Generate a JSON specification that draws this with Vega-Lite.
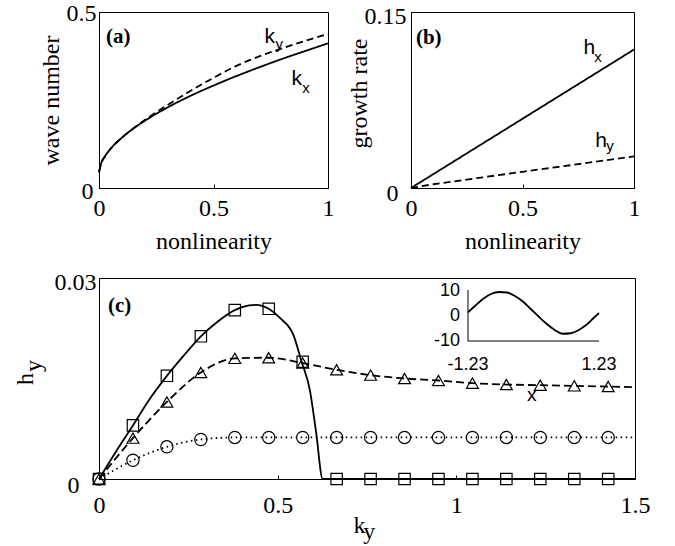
{
  "$schema": "https://vega.github.io/schema/vega-lite/v6.json",
  "background": "white",
  "padding": {"left": 12, "top": 0, "right": 5, "bottom": 0},
  "config": {
    "view": {"stroke": "black", "strokeWidth": 1},
    "axis": {
      "domainColor": "black", "tickColor": "black", "labelColor": "black", "titleColor": "black",
      "labelFont": "Liberation Serif", "titleFont": "Liberation Serif",
      "labelFontSize": 24, "titleFontSize": 24, "titleFontWeight": "normal",
      "grid": false, "tickSize": -4, "labelFlush": false, "labelOverlap": false
    },
    "axisY": {"labelOffset": 4}
  },
  "datasets": {
    "a_line": [
      {"s": "kx", "x": 0, "y": 0.044}, {"s": "kx", "x": 0.01, "y": 0.071}, {"s": "kx", "x": 0.025, "y": 0.089},
      {"s": "kx", "x": 0.05, "y": 0.111}, {"s": "kx", "x": 0.1, "y": 0.143}, {"s": "kx", "x": 0.15, "y": 0.169},
      {"s": "kx", "x": 0.2, "y": 0.191}, {"s": "kx", "x": 0.3, "y": 0.229}, {"s": "kx", "x": 0.4, "y": 0.262},
      {"s": "kx", "x": 0.5, "y": 0.291}, {"s": "kx", "x": 0.6, "y": 0.318}, {"s": "kx", "x": 0.7, "y": 0.343},
      {"s": "kx", "x": 0.8, "y": 0.367}, {"s": "kx", "x": 0.9, "y": 0.389}, {"s": "kx", "x": 1.0, "y": 0.411},
      {"s": "ky", "x": 0, "y": 0.044}, {"s": "ky", "x": 0.01, "y": 0.071}, {"s": "ky", "x": 0.025, "y": 0.089},
      {"s": "ky", "x": 0.05, "y": 0.111}, {"s": "ky", "x": 0.1, "y": 0.143}, {"s": "ky", "x": 0.15, "y": 0.169},
      {"s": "ky", "x": 0.2, "y": 0.193}, {"s": "ky", "x": 0.3, "y": 0.236}, {"s": "ky", "x": 0.4, "y": 0.276},
      {"s": "ky", "x": 0.5, "y": 0.313}, {"s": "ky", "x": 0.6, "y": 0.347}, {"s": "ky", "x": 0.7, "y": 0.374},
      {"s": "ky", "x": 0.8, "y": 0.397}, {"s": "ky", "x": 0.9, "y": 0.418}, {"s": "ky", "x": 1.0, "y": 0.438}
    ],
    "a_text": [
      {"k": "panel", "x": 0.031, "y": 0.412, "t": "(a)"},
      {"k": "main", "x": 0.746, "y": 0.412, "t": "k"},
      {"k": "sub", "x": 0.787, "y": 0.395, "t": "y"},
      {"k": "main", "x": 0.864, "y": 0.294, "t": "k"},
      {"k": "sub", "x": 0.904, "y": 0.271, "t": "x"}
    ],
    "b_line": [
      {"s": "hx", "x": 0, "y": 0}, {"s": "hx", "x": 0.25, "y": 0.0295}, {"s": "hx", "x": 0.5, "y": 0.059},
      {"s": "hx", "x": 0.75, "y": 0.0885}, {"s": "hx", "x": 1.0, "y": 0.118},
      {"s": "hy", "x": 0, "y": 0}, {"s": "hy", "x": 0.1, "y": 0.0032}, {"s": "hy", "x": 0.25, "y": 0.0072},
      {"s": "hy", "x": 0.5, "y": 0.0138}, {"s": "hy", "x": 0.75, "y": 0.0203}, {"s": "hy", "x": 1.0, "y": 0.027}
    ],
    "b_text": [
      {"k": "panel", "x": 0.022, "y": 0.1226, "t": "(b)"},
      {"k": "main", "x": 0.80, "y": 0.114, "t": "h"},
      {"k": "sub", "x": 0.839, "y": 0.107, "t": "x"},
      {"k": "main", "x": 0.852, "y": 0.0351, "t": "h"},
      {"k": "sub", "x": 0.892, "y": 0.0317, "t": "y"}
    ],
    "c_line": [
      {"s": "sq", "x": 0, "y": 0}, {"s": "sq", "x": 0.05, "y": 0.0043}, {"s": "sq", "x": 0.095, "y": 0.0080},
      {"s": "sq", "x": 0.14, "y": 0.0118}, {"s": "sq", "x": 0.19, "y": 0.0154}, {"s": "sq", "x": 0.24, "y": 0.0186},
      {"s": "sq", "x": 0.285, "y": 0.0213}, {"s": "sq", "x": 0.33, "y": 0.0234}, {"s": "sq", "x": 0.38, "y": 0.0252},
      {"s": "sq", "x": 0.42, "y": 0.0259}, {"s": "sq", "x": 0.44, "y": 0.0260}, {"s": "sq", "x": 0.475, "y": 0.0254},
      {"s": "sq", "x": 0.507, "y": 0.0240}, {"s": "sq", "x": 0.544, "y": 0.0215}, {"s": "sq", "x": 0.567, "y": 0.0175},
      {"s": "sq", "x": 0.59, "y": 0.0133}, {"s": "sq", "x": 0.608, "y": 0.0068}, {"s": "sq", "x": 0.626, "y": 0},
      {"s": "sq", "x": 1.5, "y": 0},
      {"s": "tri", "x": 0, "y": 0}, {"s": "tri", "x": 0.095, "y": 0.0061}, {"s": "tri", "x": 0.19, "y": 0.0115},
      {"s": "tri", "x": 0.285, "y": 0.0159}, {"s": "tri", "x": 0.38, "y": 0.0180}, {"s": "tri", "x": 0.475, "y": 0.0181},
      {"s": "tri", "x": 0.57, "y": 0.0173}, {"s": "tri", "x": 0.665, "y": 0.0163}, {"s": "tri", "x": 0.76, "y": 0.0155},
      {"s": "tri", "x": 0.855, "y": 0.0150}, {"s": "tri", "x": 0.95, "y": 0.0147}, {"s": "tri", "x": 1.045, "y": 0.0143},
      {"s": "tri", "x": 1.14, "y": 0.0141}, {"s": "tri", "x": 1.235, "y": 0.0140}, {"s": "tri", "x": 1.33, "y": 0.0139},
      {"s": "tri", "x": 1.425, "y": 0.0138}, {"s": "tri", "x": 1.5, "y": 0.0137},
      {"s": "circ", "x": 0, "y": 0}, {"s": "circ", "x": 0.095, "y": 0.0028}, {"s": "circ", "x": 0.19, "y": 0.0048},
      {"s": "circ", "x": 0.285, "y": 0.0059}, {"s": "circ", "x": 0.38, "y": 0.0062}, {"s": "circ", "x": 0.475, "y": 0.0062},
      {"s": "circ", "x": 0.57, "y": 0.0062}, {"s": "circ", "x": 0.665, "y": 0.0062}, {"s": "circ", "x": 0.76, "y": 0.0062},
      {"s": "circ", "x": 0.855, "y": 0.0062}, {"s": "circ", "x": 0.95, "y": 0.0062}, {"s": "circ", "x": 1.045, "y": 0.0062},
      {"s": "circ", "x": 1.14, "y": 0.0062}, {"s": "circ", "x": 1.235, "y": 0.0062}, {"s": "circ", "x": 1.33, "y": 0.0062},
      {"s": "circ", "x": 1.425, "y": 0.0062}, {"s": "circ", "x": 1.5, "y": 0.0062}
    ],
    "c_pts": [
      {"s": "sq", "x": 0, "y": 0}, {"s": "sq", "x": 0.095, "y": 0.0080}, {"s": "sq", "x": 0.19, "y": 0.0154},
      {"s": "sq", "x": 0.285, "y": 0.0213}, {"s": "sq", "x": 0.38, "y": 0.0252}, {"s": "sq", "x": 0.475, "y": 0.0254},
      {"s": "sq", "x": 0.57, "y": 0.0175}, {"s": "sq", "x": 0.665, "y": 0}, {"s": "sq", "x": 0.76, "y": 0},
      {"s": "sq", "x": 0.855, "y": 0}, {"s": "sq", "x": 0.95, "y": 0}, {"s": "sq", "x": 1.045, "y": 0},
      {"s": "sq", "x": 1.14, "y": 0}, {"s": "sq", "x": 1.235, "y": 0}, {"s": "sq", "x": 1.33, "y": 0},
      {"s": "sq", "x": 1.425, "y": 0},
      {"s": "tri", "x": 0, "y": 0}, {"s": "tri", "x": 0.095, "y": 0.0061}, {"s": "tri", "x": 0.19, "y": 0.0115},
      {"s": "tri", "x": 0.285, "y": 0.0159}, {"s": "tri", "x": 0.38, "y": 0.0180}, {"s": "tri", "x": 0.475, "y": 0.0181},
      {"s": "tri", "x": 0.57, "y": 0.0173}, {"s": "tri", "x": 0.665, "y": 0.0163}, {"s": "tri", "x": 0.76, "y": 0.0155},
      {"s": "tri", "x": 0.855, "y": 0.0150}, {"s": "tri", "x": 0.95, "y": 0.0147}, {"s": "tri", "x": 1.045, "y": 0.0143},
      {"s": "tri", "x": 1.14, "y": 0.0141}, {"s": "tri", "x": 1.235, "y": 0.0140}, {"s": "tri", "x": 1.33, "y": 0.0139},
      {"s": "tri", "x": 1.425, "y": 0.0138},
      {"s": "circ", "x": 0, "y": 0}, {"s": "circ", "x": 0.095, "y": 0.0028}, {"s": "circ", "x": 0.19, "y": 0.0048},
      {"s": "circ", "x": 0.285, "y": 0.0059}, {"s": "circ", "x": 0.38, "y": 0.0062}, {"s": "circ", "x": 0.475, "y": 0.0062},
      {"s": "circ", "x": 0.57, "y": 0.0062}, {"s": "circ", "x": 0.665, "y": 0.0062}, {"s": "circ", "x": 0.76, "y": 0.0062},
      {"s": "circ", "x": 0.855, "y": 0.0062}, {"s": "circ", "x": 0.95, "y": 0.0062}, {"s": "circ", "x": 1.045, "y": 0.0062},
      {"s": "circ", "x": 1.14, "y": 0.0062}, {"s": "circ", "x": 1.235, "y": 0.0062}, {"s": "circ", "x": 1.33, "y": 0.0062},
      {"s": "circ", "x": 1.425, "y": 0.0062}
    ],
    "c_text": [
      {"k": "panel", "x": 0.025, "y": 0.0249, "t": "(c)"},
      {"k": "mark", "x": 1.211, "y": 0.0125, "t": "x"},
      {"k": "xsub", "x": 0.756, "y": -0.0090, "t": "y"},
      {"k": "ysub", "x": -0.1623, "y": 0.01687, "t": "y"}
    ],
    "inset_line": [
      {"x": -1.23, "y": 1.5}, {"x": -1.1, "y": 4.0}, {"x": -0.95, "y": 6.8}, {"x": -0.8, "y": 8.8},
      {"x": -0.65, "y": 9.6}, {"x": -0.5, "y": 9.4}, {"x": -0.35, "y": 8.0}, {"x": -0.2, "y": 5.8},
      {"x": -0.05, "y": 2.8}, {"x": 0.1, "y": -0.3}, {"x": 0.25, "y": -3.2}, {"x": 0.4, "y": -5.6},
      {"x": 0.55, "y": -7.1}, {"x": 0.7, "y": -6.9}, {"x": 0.85, "y": -5.6}, {"x": 1.0, "y": -3.4},
      {"x": 1.12, "y": -1.0}, {"x": 1.23, "y": 1.2}
    ],
    "inset_axes": [
      {"x": -1.23, "y": -10, "x2": 1.23, "y2": -10},
      {"x": -1.23, "y": -10, "x2": -1.23, "y2": 10.4}
    ],
    "inset_labels": [
      {"k": "y", "x": -1.23, "y": 10, "t": "10"},
      {"k": "y", "x": -1.23, "y": 0, "t": "0"},
      {"k": "y", "x": -1.23, "y": -10, "t": "-10"},
      {"k": "x", "x": -1.23, "y": -10, "t": "-1.23"},
      {"k": "x", "x": 1.23, "y": -10, "t": "1.23"}
    ]
  },
  "spacing": 15,
  "vconcat": [
    {
      "spacing": 83,
      "bounds": "flush",
      "hconcat": [
        {
          "width": 229, "height": 176,
          "layer": [
            {
              "data": {"name": "a_line"},
              "mark": {"type": "line", "color": "black", "strokeWidth": 1.8, "interpolate": "monotone"},
              "encoding": {
                "x": {"field": "x", "type": "quantitative", "scale": {"domain": [0, 1], "nice": false},
                      "axis": {"values": [0, 0.5, 1], "format": "~g", "title": "nonlinearity", "labelPadding": 12, "titlePadding": 9}},
                "y": {"field": "y", "type": "quantitative", "scale": {"domain": [0, 0.5], "nice": false},
                      "axis": {"values": [0, 0.5], "format": "~g", "title": "wave number", "titlePadding": 3,
                               "labelOffset": {"condition": {"test": "datum.value == 0", "value": 3}, "value": 1},
                               "labelPadding": {"condition": {"test": "datum.value == 0", "value": 10}, "value": 7}}},
                "strokeDash": {"field": "s", "type": "nominal", "scale": {"domain": ["kx", "ky"], "range": [[1, 0], [7, 4]]}, "legend": null}
              }
            },
            {
              "data": {"name": "a_text"},
              "transform": [{"filter": "datum.k == 'panel'"}],
              "mark": {"type": "text", "font": "Liberation Serif", "fontWeight": "bold", "fontSize": 21, "align": "left", "baseline": "alphabetic", "color": "black"},
              "encoding": {"x": {"field": "x", "type": "quantitative"}, "y": {"field": "y", "type": "quantitative"}, "text": {"field": "t"}}
            },
            {
              "data": {"name": "a_text"},
              "transform": [{"filter": "datum.k == 'main'"}],
              "mark": {"type": "text", "font": "Liberation Sans", "fontSize": 21, "align": "center", "baseline": "alphabetic", "color": "black"},
              "encoding": {"x": {"field": "x", "type": "quantitative"}, "y": {"field": "y", "type": "quantitative"}, "text": {"field": "t"}}
            },
            {
              "data": {"name": "a_text"},
              "transform": [{"filter": "datum.k == 'sub'"}],
              "mark": {"type": "text", "font": "Liberation Sans", "fontSize": 15, "align": "center", "baseline": "alphabetic", "color": "black"},
              "encoding": {"x": {"field": "x", "type": "quantitative"}, "y": {"field": "y", "type": "quantitative"}, "text": {"field": "t"}}
            }
          ]
        },
        {
          "width": 223, "height": 176,
          "layer": [
            {
              "data": {"name": "b_line"},
              "mark": {"type": "line", "color": "black", "strokeWidth": 1.8},
              "encoding": {
                "x": {"field": "x", "type": "quantitative", "scale": {"domain": [0, 1], "nice": false},
                      "axis": {"values": [0, 0.5, 1], "format": "~g", "title": "nonlinearity", "labelPadding": 12, "titlePadding": 9}},
                "y": {"field": "y", "type": "quantitative", "scale": {"domain": [0, 0.15], "nice": false},
                      "axis": {"values": [0, 0.15], "format": "~g", "title": "growth rate", "titlePadding": -7, "titleY": 81,
                               "labelOffset": {"condition": {"test": "datum.value == 0", "value": 5}, "value": 4},
                               "labelPadding": {"condition": {"test": "datum.value == 0", "value": 17}, "value": 9}}},
                "strokeDash": {"field": "s", "type": "nominal", "scale": {"domain": ["hx", "hy"], "range": [[1, 0], [7, 4]]}, "legend": null}
              }
            },
            {
              "data": {"name": "b_text"},
              "transform": [{"filter": "datum.k == 'panel'"}],
              "mark": {"type": "text", "font": "Liberation Serif", "fontWeight": "bold", "fontSize": 21, "align": "left", "baseline": "alphabetic", "color": "black"},
              "encoding": {"x": {"field": "x", "type": "quantitative"}, "y": {"field": "y", "type": "quantitative"}, "text": {"field": "t"}}
            },
            {
              "data": {"name": "b_text"},
              "transform": [{"filter": "datum.k == 'main'"}],
              "mark": {"type": "text", "font": "Liberation Sans", "fontSize": 21, "align": "center", "baseline": "alphabetic", "color": "black"},
              "encoding": {"x": {"field": "x", "type": "quantitative"}, "y": {"field": "y", "type": "quantitative"}, "text": {"field": "t"}}
            },
            {
              "data": {"name": "b_text"},
              "transform": [{"filter": "datum.k == 'sub'"}],
              "mark": {"type": "text", "font": "Liberation Sans", "fontSize": 15, "align": "center", "baseline": "alphabetic", "color": "black"},
              "encoding": {"x": {"field": "x", "type": "quantitative"}, "y": {"field": "y", "type": "quantitative"}, "text": {"field": "t"}}
            }
          ]
        }
      ]
    },
    {
      "width": 536, "height": 201,
      "resolve": {"scale": {"x": "independent", "y": "independent"}},
      "layer": [
        {
          "layer": [
            {
              "data": {"name": "c_line"},
              "transform": [{"filter": "datum.s == 'sq'"}],
              "mark": {"type": "line", "color": "black", "strokeWidth": 1.8, "interpolate": "monotone"},
              "encoding": {
                "x": {"field": "x", "type": "quantitative", "scale": {"domain": [0, 1.5], "nice": false},
                      "axis": {"values": [0, 0.5, 1, 1.5], "format": "~g", "title": "k", "titleX": 260, "labelPadding": 18, "titlePadding": -4}},
                "y": {"field": "y", "type": "quantitative", "scale": {"domain": [0, 0.03], "nice": false},
                      "axis": {"values": [0, 0.03], "format": "~g", "title": "h", "titlePadding": 17,
                               "labelOffset": {"condition": {"test": "datum.value == 0", "value": 6}, "value": 4},
                               "labelPadding": {"condition": {"test": "datum.value == 0", "value": 24}, "value": 7}}}
              }
            },
            {
              "data": {"name": "c_line"},
              "transform": [{"filter": "datum.s == 'tri'"}],
              "mark": {"type": "line", "color": "black", "strokeWidth": 1.8, "interpolate": "monotone", "strokeDash": [8, 4]},
              "encoding": {"x": {"field": "x", "type": "quantitative"}, "y": {"field": "y", "type": "quantitative"}}
            },
            {
              "data": {"name": "c_line"},
              "transform": [{"filter": "datum.s == 'circ'"}],
              "mark": {"type": "line", "color": "black", "strokeWidth": 1.8, "interpolate": "monotone", "strokeDash": [1.5, 3.5]},
              "encoding": {"x": {"field": "x", "type": "quantitative"}, "y": {"field": "y", "type": "quantitative"}}
            },
            {
              "data": {"name": "c_pts"},
              "mark": {"type": "point", "filled": false, "color": "black", "strokeWidth": 1.2, "opacity": 1},
              "encoding": {
                "x": {"field": "x", "type": "quantitative"},
                "y": {"field": "y", "type": "quantitative"},
                "shape": {"field": "s", "type": "nominal", "scale": {"domain": ["sq", "tri", "circ"], "range": ["square", "triangle-up", "circle"]}, "legend": null},
                "size": {"field": "s", "type": "nominal", "scale": {"domain": ["sq", "tri", "circ"], "range": [130, 150, 100]}, "legend": null}
              }
            },
            {
              "data": {"name": "c_text"},
              "transform": [{"filter": "datum.k == 'panel'"}],
              "mark": {"type": "text", "font": "Liberation Serif", "fontWeight": "bold", "fontSize": 21, "align": "left", "baseline": "alphabetic", "color": "black"},
              "encoding": {"x": {"field": "x", "type": "quantitative"}, "y": {"field": "y", "type": "quantitative"}, "text": {"field": "t"}}
            },
            {
              "data": {"name": "c_text"},
              "transform": [{"filter": "datum.k == 'mark'"}],
              "mark": {"type": "text", "font": "Liberation Sans", "fontSize": 19, "align": "center", "baseline": "middle", "color": "black"},
              "encoding": {"x": {"field": "x", "type": "quantitative"}, "y": {"field": "y", "type": "quantitative"}, "text": {"field": "t"}}
            },
            {
              "data": {"name": "c_text"},
              "transform": [{"filter": "datum.k == 'xsub'"}],
              "mark": {"type": "text", "font": "Liberation Serif", "fontSize": 24, "align": "center", "baseline": "alphabetic", "color": "black"},
              "encoding": {"x": {"field": "x", "type": "quantitative"}, "y": {"field": "y", "type": "quantitative"}, "text": {"field": "t"}}
            },
            {
              "data": {"name": "c_text"},
              "transform": [{"filter": "datum.k == 'ysub'"}],
              "mark": {"type": "text", "font": "Liberation Serif", "fontSize": 24, "align": "center", "baseline": "alphabetic", "angle": 270, "color": "black"},
              "encoding": {"x": {"field": "x", "type": "quantitative"}, "y": {"field": "y", "type": "quantitative"}, "text": {"field": "t"}}
            }
          ]
        },
        {
          "layer": [
            {
              "data": {"name": "inset_line"},
              "mark": {"type": "line", "color": "black", "strokeWidth": 1.8, "interpolate": "monotone"},
              "encoding": {
                "x": {"field": "x", "type": "quantitative", "scale": {"domain": [-8.159, 1.906], "nice": false, "zero": false}, "axis": null},
                "y": {"field": "y", "type": "quantitative", "scale": {"domain": [-65.2, 15.2], "nice": false, "zero": false}, "axis": null}
              }
            },
            {
              "data": {"name": "inset_axes"},
              "mark": {"type": "rule", "color": "black", "strokeWidth": 1},
              "encoding": {
                "x": {"field": "x", "type": "quantitative"}, "y": {"field": "y", "type": "quantitative"},
                "x2": {"field": "x2"}, "y2": {"field": "y2"}
              }
            },
            {
              "data": {"name": "inset_labels"},
              "transform": [{"filter": "datum.k == 'y'"}],
              "mark": {"type": "text", "font": "Liberation Sans", "fontSize": 18, "align": "right", "baseline": "middle", "dx": -8, "color": "black"},
              "encoding": {"x": {"field": "x", "type": "quantitative"}, "y": {"field": "y", "type": "quantitative"}, "text": {"field": "t"}}
            },
            {
              "data": {"name": "inset_labels"},
              "transform": [{"filter": "datum.k == 'x'"}],
              "mark": {"type": "text", "font": "Liberation Sans", "fontSize": 18, "align": "center", "baseline": "middle", "dy": 24, "color": "black"},
              "encoding": {"x": {"field": "x", "type": "quantitative"}, "y": {"field": "y", "type": "quantitative"}, "text": {"field": "t"}}
            }
          ]
        }
      ]
    }
  ]
}
